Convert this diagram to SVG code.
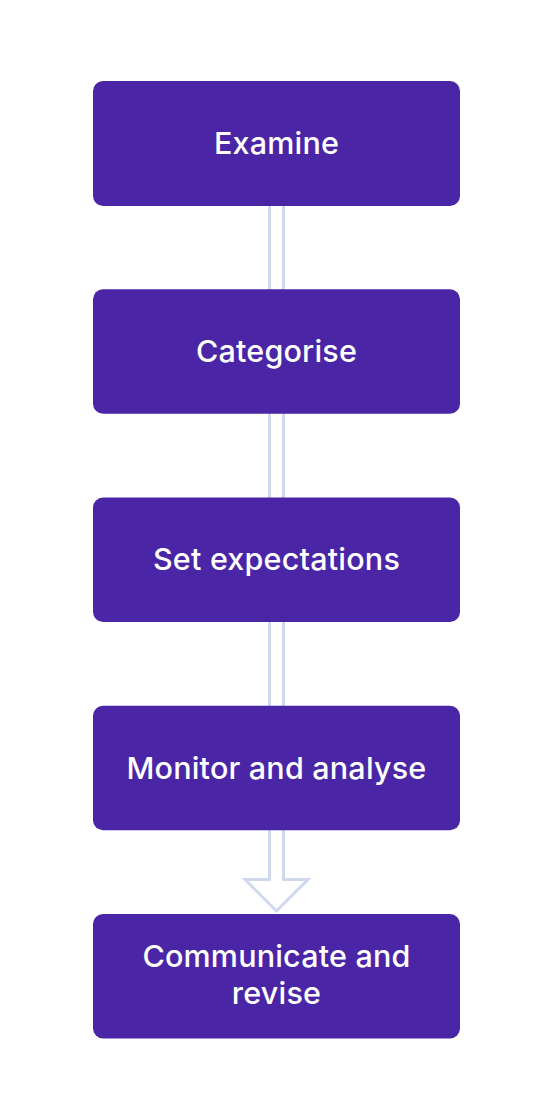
<svg xmlns="http://www.w3.org/2000/svg" width="550" height="1117" viewBox="0 0 550 1117">
<style>
.box{fill:#4a26a6}
.lbl{fill:#ffffff;font-family:Inter,"Liberation Sans",sans-serif;font-size:30.5px;font-weight:500;letter-spacing:0.2px;text-anchor:middle}
.conn{fill:none;stroke:#cfd8ee;stroke-width:3;stroke-linejoin:miter}
</style>
<rect width="550" height="1117" fill="#ffffff"/>
<g id="connectors">
<path class="conn" d="M269.5,200 V879.5 H245 L276.5,911 L308,879.5 H283.5 V200"/>
</g>
<g id="examine">
<rect class="box" x="93" y="81" width="367" height="125" rx="10"/>
<text class="lbl" x="276.5" y="153.5">Examine</text>
</g>
<g id="categorise">
<rect class="box" x="93" y="289.25" width="367" height="124.5" rx="10"/>
<text class="lbl" x="276.5" y="361.5">Categorise</text>
</g>
<g id="set-expectations">
<rect class="box" x="93" y="497.5" width="367" height="124.5" rx="10"/>
<text class="lbl" x="276.5" y="570">Set expectations</text>
</g>
<g id="monitor-and-analyse">
<rect class="box" x="93" y="705.75" width="367" height="124.5" rx="10"/>
<text class="lbl" x="276.5" y="778.5">Monitor and analyse</text>
</g>
<g id="communicate-and-revise">
<rect class="box" x="93" y="914" width="367" height="124.5" rx="10"/>
<text class="lbl" x="276.5" y="966.5">Communicate and</text>
<text class="lbl" x="276.5" y="1003.5">revise</text>
</g>
</svg>
